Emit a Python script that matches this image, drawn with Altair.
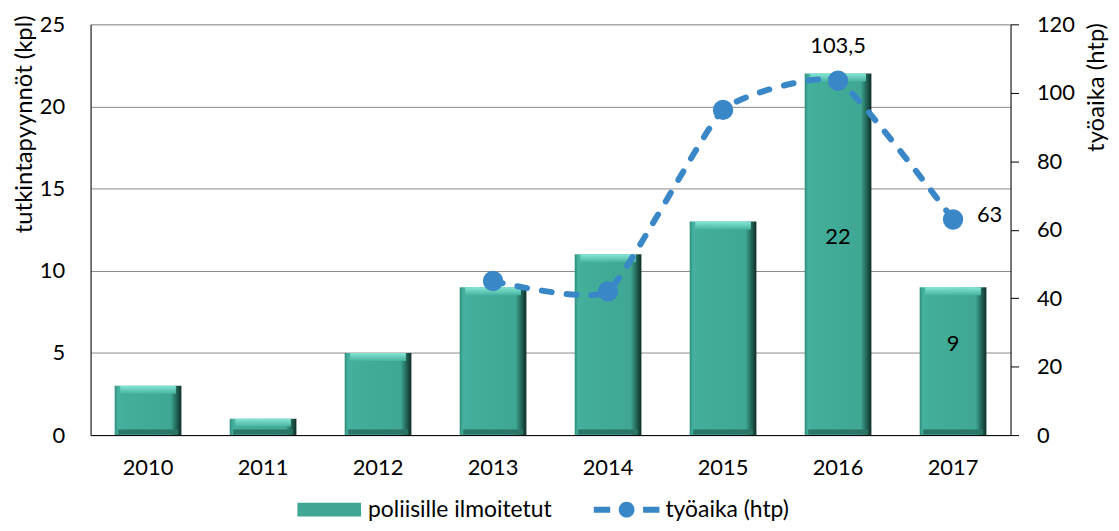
import altair as alt
import pandas as pd

years = ["2010", "2011", "2012", "2013", "2014", "2015", "2016", "2017"]
reports = [3, 1, 5, 9, 11, 13, 22, 9]
bar_labels = ["", "", "", "", "", "", "22", "9"]

line_years = ["2013", "2014", "2015", "2016", "2017"]
work_time = [45, 42, 95, 103.5, 63]
work_labels = ["", "", "", "103,5", "63"]

series = ["poliisille ilmoitetut", "työaika (htp)"]

TEAL = "#3fa794"
BLUE = "#3a87c8"
FONT = "Lato"
FS = 22
TFS = 24

bars_df = pd.DataFrame({"year": years, "reports": reports, "label": bar_labels})
line_df = pd.DataFrame({"year": line_years, "work": work_time, "label": work_labels})
legend_df = pd.DataFrame({"series": series})

x_enc = alt.X(
    "year:N",
    scale=alt.Scale(domain=years, paddingInner=0.42, paddingOuter=0.21),
    axis=alt.Axis(title=None, labelAngle=0, tickSize=0, domainColor="black",
                  labelPadding=23, labelFontSize=FS, labelColor="black", labelFont=FONT),
)

left_scale = alt.Scale(domain=[0, 25], nice=False, zero=True)
right_scale = alt.Scale(domain=[0, 120], nice=False, zero=True)

y_left = alt.Y(
    "reports:Q",
    scale=left_scale,
    axis=alt.Axis(values=[0, 5, 10, 15, 20, 25], title="tutkintapyynnöt (kpl)", grid=True,
                  gridColor="#8a8a8a", gridWidth=1, tickSize=0, domainColor="black",
                  labelPadding=26, labelFontSize=FS, labelColor="black", labelFont=FONT,
                  titleFontSize=TFS, titleFont=FONT, titleFontWeight="normal", titleColor="black",
                  titleAngle=-90, titleX=-66, titleY=100, titleAlign="center", titleBaseline="middle"),
)

bar_grad = alt.Gradient(
    gradient="linear", x1=0, x2=1, y1=0, y2=0,
    stops=[
        alt.GradientStop(offset=0, color="#2f8c7c"),
        alt.GradientStop(offset=0.05, color="#45b29f"),
        alt.GradientStop(offset=0.12, color="#43ae9b"),
        alt.GradientStop(offset=0.84, color="#3fa793"),
        alt.GradientStop(offset=0.91, color="#277262"),
        alt.GradientStop(offset=1, color="#0f2d27"),
    ],
)
top_grad = alt.Gradient(
    gradient="linear", x1=0, x2=0, y1=0, y2=1,
    stops=[
        alt.GradientStop(offset=0, color="#86e6d5"),
        alt.GradientStop(offset=1, color="#48b3a0"),
    ],
)

bars = alt.Chart(bars_df).mark_bar(color=bar_grad).encode(x=x_enc, y=y_left)
bevel_top = alt.Chart(bars_df).mark_tick(color=top_grad, thickness=8, size=56, yOffset=4, opacity=1).encode(
    x=x_enc, y=alt.Y("reports:Q", scale=left_scale))
bevel_bottom = alt.Chart(bars_df).mark_tick(color="#2a7566", thickness=5, size=60, yOffset=-3, opacity=1).encode(
    x=x_enc, y=alt.Y(datum=0, scale=left_scale))
bar_text = alt.Chart(bars_df).transform_filter("datum.label != ''").transform_calculate(
    mid="datum.reports / 2").mark_text(fontSize=FS, font=FONT, color="black", dy=-17).encode(
    x=x_enc, y=alt.Y("mid:Q", scale=left_scale), text="label:N")

left = alt.layer(bars, bevel_top, bevel_bottom, bar_text)

y_right = alt.Y(
    "work:Q",
    scale=right_scale,
    axis=alt.Axis(orient="right", values=[0, 20, 40, 60, 80, 100, 120], title="työaika (htp)", grid=False,
                  tickSize=8, tickColor="black", domainColor="black",
                  labelPadding=18, labelFontSize=FS, labelColor="black", labelFont=FONT,
                  titleFontSize=TFS, titleFont=FONT, titleFontWeight="normal", titleColor="black",
                  titleAngle=-90, titleX=86, titleY=63, titleAlign="center", titleBaseline="middle"),
)

line = alt.Chart(line_df).mark_line(color=BLUE, strokeWidth=6, strokeDash=[10, 15], strokeCap="round",
                                    interpolate="cardinal", tension=0.55).encode(x=x_enc, y=y_right)
points = alt.Chart(line_df).mark_circle(color=BLUE, size=420, opacity=1).encode(
    x=x_enc, y=alt.Y("work:Q", scale=right_scale))
lab_top = alt.Chart(line_df).transform_filter("datum.year == '2016'").mark_text(
    fontSize=FS, font=FONT, color="black", dy=-35).encode(
    x=x_enc, y=alt.Y("work:Q", scale=right_scale), text="label:N")
lab_right = alt.Chart(line_df).transform_filter("datum.year == '2017'").mark_text(
    fontSize=FS, font=FONT, color="black", dx=24, dy=-4, align="left").encode(
    x=x_enc, y=alt.Y("work:Q", scale=right_scale), text="label:N")

BAR_PATH = "M-0.97,-0.21H0.97V0.21H-0.97Z"
LINE_PATH = ("M-1,-0.09H-0.5V0.09H-1Z M0.5,-0.09H1V0.09H0.5Z "
             "M0.24,0A0.24,0.24 0 1,1 -0.24,0A0.24,0.24 0 1,1 0.24,0Z")

legend_def = alt.Legend(title=None, orient="none", direction="horizontal",
                        legendX=207, legendY=455, symbolSize=4356,
                        symbolOpacity=1, symbolStrokeWidth=0,
                        labelFontSize=23, labelFont=FONT, labelColor="black", labelLimit=400,
                        labelOffset=6, columnPadding=42, padding=0)

legend_carrier = alt.Chart(legend_df).mark_point(opacity=0, filled=True).encode(
    x=alt.value(0), y=alt.value(0),
    color=alt.Color("series:N", scale=alt.Scale(domain=series, range=[TEAL, BLUE]), legend=legend_def),
    shape=alt.Shape("series:N", scale=alt.Scale(domain=series, range=[BAR_PATH, LINE_PATH]), legend=legend_def),
)

right = alt.layer(line, points, lab_top, lab_right, legend_carrier)

chart = alt.layer(left, right).resolve_scale(y="independent").properties(
    width=925, height=413,
    autosize=alt.AutoSizeParams(type="none"),
    padding={"left": 83, "top": 15, "right": 101, "bottom": 92},
).configure_view(stroke=None).configure(font=FONT)

chart.save("out.html", embed_options={"renderer": "svg", "actions": False})
